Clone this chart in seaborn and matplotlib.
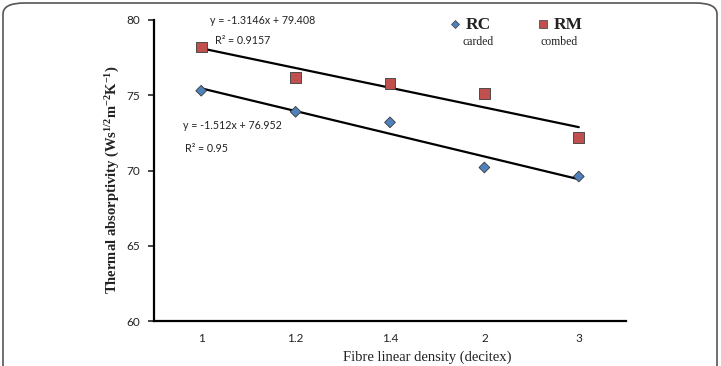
"""
Thermal absorptivity vs fibre linear density, carded (RC) and combed (RM) yarns.
"""
import numpy as np
import pandas as pd
import seaborn as sns
import matplotlib.pyplot as plt
from matplotlib.patches import FancyBboxPatch

sns.set_style("white")
plt.rcParams.update({"mathtext.fontset": "custom",
                     "mathtext.rm": "Liberation Serif",
                     "mathtext.it": "Liberation Serif:italic",
                     "mathtext.bf": "Liberation Serif:bold"})

density_labels = ["1", "1.2", "1.4", "2", "3"]
rc_values = [75.3, 73.9, 73.2, 70.2, 69.6]
rm_values = [78.2, 76.2, 75.8, 75.1, 72.2]
rc_fit_text = ["y = -1.512x + 76.952", "R² = 0.95"]
rm_fit_text = ["y = -1.3146x + 79.408", "R² = 0.9157"]

SANS = "Lato"
SERIF = "Liberation Serif"
RC_COL = "#4F81BD"
RM_COL = "#C0504D"

pos = np.arange(1, len(density_labels) + 1)
df = pd.DataFrame({
    "pos": np.concatenate([pos, pos]),
    "value": rc_values + rm_values,
    "yarn": ["RC"] * len(rc_values) + ["RM"] * len(rm_values),
})

fig = plt.figure(figsize=(7.21, 3.66), dpi=100)
ax = fig.add_axes([154 / 721, 1 - 321 / 366, (626 - 154) / 721, (321 - 20) / 366])

# trend lines (linear fit over category index)
for vals in (rc_values, rm_values):
    sns.regplot(x=pos, y=vals, ax=ax, scatter=False, ci=None,
                color="black", line_kws={"linewidth": 1.6}, truncate=True)

sns.scatterplot(data=df, x="pos", y="value", hue="yarn", style="yarn", size="yarn",
                markers={"RC": "D", "RM": "s"},
                palette={"RC": RC_COL, "RM": RM_COL},
                sizes={"RC": 30, "RM": 60},
                edgecolor="#3a3a3a", linewidth=0.6,
                ax=ax, legend=False, zorder=3)

ax.set_xlim(0.5, len(density_labels) + 0.5)
ax.set_ylim(60, 80)
ax.set_yticks([60, 65, 70, 75, 80])
ax.set_xticks(pos)
ax.set_xticklabels(density_labels)
ax.set_xticks(np.arange(1.5, len(density_labels) + 1, 1), minor=True)
ax.tick_params(axis="x", which="major", length=0, pad=9)
ax.tick_params(axis="x", which="minor", direction="in", length=4, width=1.2)
ax.tick_params(axis="y", direction="out", length=4, width=1.2, left=True, pad=6)
for lab in ax.get_xticklabels() + ax.get_yticklabels():
    lab.set_fontfamily(SANS)
    lab.set_fontsize(8.5)
    lab.set_color("#222222")

for side in ["top", "right"]:
    ax.spines[side].set_visible(False)
for side in ["left", "bottom"]:
    ax.spines[side].set_linewidth(1.6)
    ax.spines[side].set_color("black")
ax.set_xlabel("")
ax.set_ylabel("")

# equation annotations
fig.text(210 / 721, 1 - 21 / 366, rm_fit_text[0], family=SANS, fontsize=7.7, va="center", color="#222222")
fig.text(215 / 721, 1 - 41 / 366, rm_fit_text[1], family=SANS, fontsize=7.7, va="center", color="#222222")
fig.text(183 / 721, 1 - 125 / 366, rc_fit_text[0], family=SANS, fontsize=7.7, va="center", color="#222222")
fig.text(185 / 721, 1 - 148 / 366, rc_fit_text[1], family=SANS, fontsize=7.7, va="center", color="#222222")

# legend drawn by hand
fig.lines.append(plt.Line2D([455 / 721], [1 - 24 / 366], transform=fig.transFigure,
                            marker="D", markersize=4.5, color=RC_COL,
                            markeredgecolor="#3a3a3a", markeredgewidth=0.5, linestyle=""))
fig.lines.append(plt.Line2D([543 / 721], [1 - 24 / 366], transform=fig.transFigure,
                            marker="s", markersize=6, color=RM_COL,
                            markeredgecolor="#3a3a3a", markeredgewidth=0.5, linestyle=""))
fig.text(466 / 721, 1 - 25 / 366, "RC", family=SERIF, fontsize=12.5, fontweight="bold", va="center", color="#222222")
fig.text(554 / 721, 1 - 25 / 366, "RM", family=SERIF, fontsize=12.5, fontweight="bold", va="center", color="#222222")
fig.text(478 / 721, 1 - 42 / 366, "carded", family=SERIF, fontsize=8.5, va="center", ha="center", color="#222222")
fig.text(559 / 721, 1 - 42 / 366, "combed", family=SERIF, fontsize=8.5, va="center", ha="center", color="#222222")

# axis labels
fig.text(113 / 721, 1 - 180 / 366,
         r"Thermal absorptivity (Ws$^{\mathbf{1/2}}$m$^{\mathbf{-2}}$K$^{\mathbf{-1}}$)",
         family=SERIF, fontsize=10.5, fontweight="semibold", rotation=90,
         ha="center", va="center", color="#222222")
fig.text(427 / 721, 1 - 357 / 366, "Fibre linear density (decitex)",
         family=SERIF, fontsize=10.5, ha="center", va="center", color="#222222")

# rounded frame around the figure
frame = FancyBboxPatch((3 / 721, -0.2), 1 - 7 / 721, 1.2 - 3 / 366,
                       boxstyle="round,pad=0,rounding_size=0.03",
                       transform=fig.transFigure, fill=False,
                       edgecolor="#555555", linewidth=1.2)
fig.patches.append(frame)

fig.savefig("out.png", dpi=100)
